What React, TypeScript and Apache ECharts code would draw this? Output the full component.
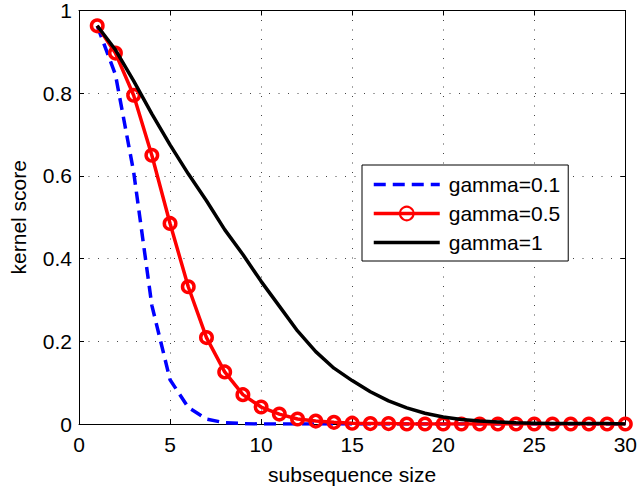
import React, { useEffect, useRef } from "react";
import * as echarts from "echarts";

const xValues = Array.from({ length: 30 }, (_, i) => i + 1);
const gamma01 = [0.963, 0.845, 0.61, 0.287, 0.107, 0.04, 0.012, 0.003, 0.001, 0, 0, 0, 0, 0, 0, 0, 0, 0, 0, 0, 0, 0, 0, 0, 0, 0, 0, 0, 0, 0];
const gamma05 = [0.963, 0.897, 0.795, 0.65, 0.485, 0.332, 0.209, 0.126, 0.071, 0.041, 0.024, 0.012, 0.007, 0.004, 0.002, 0.001, 0.001, 0, 0, 0, 0, 0, 0, 0, 0, 0, 0, 0, 0, 0];
const gamma1 = [0.963, 0.905, 0.83, 0.75, 0.675, 0.605, 0.54, 0.47, 0.41, 0.345, 0.285, 0.225, 0.175, 0.135, 0.105, 0.078, 0.056, 0.039, 0.026, 0.017, 0.011, 0.007, 0.005, 0.003, 0.002, 0.001, 0.001, 0.001, 0.001, 0];
const seriesNames = ["gamma=0.1", "gamma=0.5", "gamma=1"];
const xAxisTitle = "subsequence size";
const yAxisTitle = "kernel score";

const FONT = "Liberation Sans";

export default function App() {
  const ref = useRef<HTMLDivElement>(null);
  useEffect(() => {
    if (!ref.current) return;
    const chart = echarts.init(ref.current, undefined, { renderer: "svg" });
    const pair = (arr: number[]) => xValues.map((x, i) => [x, arr[i]]);
    const gridLine = { show: true, lineStyle: { color: "#444", width: 1, type: [1, 8.5] as any } };
    const hiddenSymbol = { color: "rgba(0,0,0,0)", borderWidth: 0, opacity: 0 };
    chart.setOption({
      animation: false,
      backgroundColor: "#fff",
      textStyle: { fontFamily: FONT },
      grid: { left: 77, right: 10, top: 5, bottom: 62, containLabel: false },
      legend: {
        orient: "vertical",
        left: 362,
        top: 165,
        padding: [9, 8, 8, 10],
        itemGap: 8,
        itemWidth: 66,
        itemHeight: 17,
        backgroundColor: "#fff",
        borderColor: "#000",
        borderWidth: 1,
        borderRadius: 0,
        lineStyle: { width: 3.5 },
        textStyle: { fontFamily: FONT, fontSize: 21, color: "#000", lineHeight: 21, padding: [0, 0, 0, 4] },
        data: [
          { name: seriesNames[0], itemStyle: hiddenSymbol },
          { name: seriesNames[1] },
          { name: seriesNames[2], itemStyle: hiddenSymbol },
        ],
      },
      xAxis: [
        {
          type: "value",
          min: 0,
          max: 30,
          interval: 5,
          name: xAxisTitle,
          nameLocation: "middle",
          nameGap: 40,
          nameTextStyle: { fontFamily: FONT, fontSize: 21, color: "#000" },
          axisLine: { show: true, onZero: false, lineStyle: { color: "#000", width: 1 } },
          axisTick: { show: true, inside: true, length: 5, lineStyle: { color: "#000" } },
          axisLabel: { fontFamily: FONT, fontSize: 21, color: "#000", margin: 10 },
          splitLine: gridLine,
        },
        {
          type: "value",
          position: "top",
          min: 0,
          max: 30,
          interval: 5,
          axisLine: { show: true, onZero: false, lineStyle: { color: "#000", width: 1 } },
          axisTick: { show: true, inside: true, length: 5, lineStyle: { color: "#000" } },
          axisLabel: { show: false },
          splitLine: { show: false },
        },
      ],
      yAxis: [
        {
          type: "value",
          min: 0,
          max: 1,
          interval: 0.2,
          name: yAxisTitle,
          nameLocation: "middle",
          nameGap: 50,
          nameTextStyle: { fontFamily: FONT, fontSize: 21, color: "#000" },
          axisLine: { show: true, onZero: false, lineStyle: { color: "#000", width: 1 } },
          axisTick: { show: true, inside: true, length: 5, lineStyle: { color: "#000" } },
          axisLabel: {
            fontFamily: FONT,
            fontSize: 21,
            color: "#000",
            margin: 7,
            formatter: (v: number) => String(Math.round(v * 10) / 10),
          },
          splitLine: gridLine,
        },
        {
          type: "value",
          position: "right",
          min: 0,
          max: 1,
          interval: 0.2,
          axisLine: { show: true, onZero: false, lineStyle: { color: "#000", width: 1 } },
          axisTick: { show: true, inside: true, length: 5, lineStyle: { color: "#000" } },
          axisLabel: { show: false },
          splitLine: { show: false },
        },
      ],
      series: [
        {
          name: seriesNames[0],
          type: "line",
          data: pair(gamma01),
          showSymbol: false,
          symbol: "none",
          lineStyle: { color: "#0000ff", width: 3.5, type: [12, 7] },
          itemStyle: { color: "#0000ff" },
          z: 2,
        },
        {
          name: seriesNames[1],
          type: "line",
          data: pair(gamma05),
          symbol: "circle",
          symbolSize: 11.5,
          lineStyle: { color: "#ff0000", width: 3.5 },
          itemStyle: { color: "rgba(255,255,255,0)", borderColor: "#ff0000", borderWidth: 3.5 },
          z: 3,
        },
        {
          name: seriesNames[2],
          type: "line",
          data: pair(gamma1),
          showSymbol: false,
          symbol: "none",
          lineStyle: { color: "#000", width: 3.5 },
          itemStyle: { color: "#000" },
          z: 4,
        },
      ],
    });
    return () => chart.dispose();
  }, []);
  return (
    <div
      ref={ref}
      style={{ position: "fixed", left: 0, top: 0, width: 640, height: 490, background: "#fff" }}
    />
  );
}
